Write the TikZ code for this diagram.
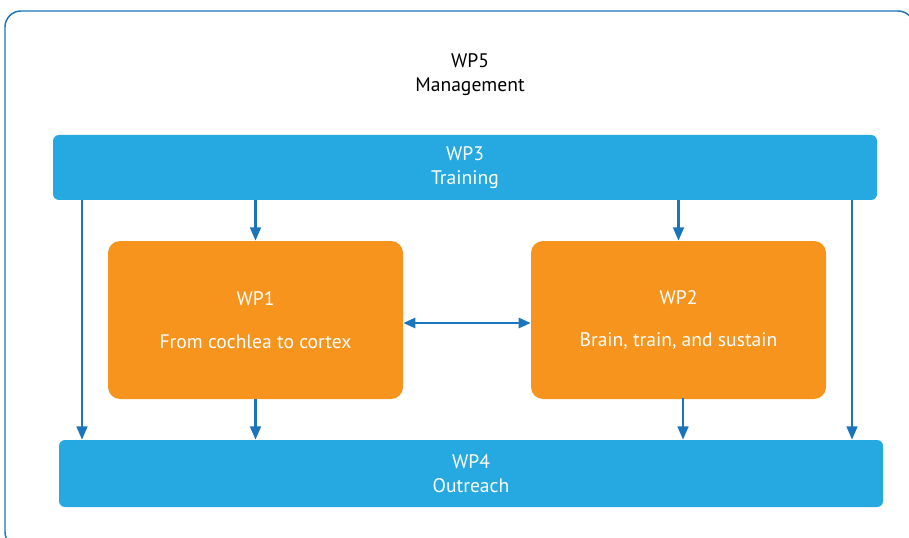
\documentclass[tikz,border=0pt]{standalone}
\usepackage{fontspec}
\setmainfont{PT Sans}
\usepackage{tikz}
\usetikzlibrary{arrows.meta}
\usepackage{xcolor}

\definecolor{wpblue}{RGB}{37,169,224}
\definecolor{wporange}{RGB}{247,148,29}
\definecolor{linkblue}{RGB}{27,117,188}

\tikzset{
  wpbar/.style={rectangle, rounded corners=4.5pt, fill=wpblue, text=white, align=center, inner sep=0pt, font=\fontsize{14.7}{18.5}\selectfont},
  wpcore/.style={rectangle, rounded corners=9pt, fill=wporange, text=white, align=center, inner sep=0pt, font=\fontsize{14.7}{18.5}\selectfont},
  link/.style={draw=linkblue, line width=1.9pt, -{Triangle[length=10pt,width=8pt]}},
  twolink/.style={draw=linkblue, line width=1.9pt, {Triangle[length=9pt,width=7.5pt]}-{Triangle[length=9pt,width=7.5pt]}}
}

\begin{document}
\begin{tikzpicture}[x=0.75pt,y=0.75pt,yscale=-1,xscale=1]
\clip (0,0) rectangle (909,538);

%Rounded frame (WP5)
\draw [color=linkblue, line width=1.1pt, rounded corners=12pt] (5,11) rectangle (914,548);
\node (wp5) at (470,75) [align=center, font=\fontsize{14.7}{18}\selectfont] {WP5\\Management};

%Bars
\node (wp3) at (465,167.5) [wpbar, minimum width=618pt, minimum height=48.75pt] {WP3\\Training};
\node (wp4) at (471,473.5) [wpbar, minimum width=618pt, minimum height=50.25pt] {WP4\\Outreach};

%Work packages
\node (wp1) at (255.5,320) [wpcore, minimum width=221.25pt, minimum height=118.5pt] {WP1\\[13.5pt]From cochlea to cortex};
\node (wp2) at (678.5,320) [wpcore, minimum width=221.25pt, minimum height=118.5pt] {WP2\\[12.5pt]Brain, train, and sustain};

%Free ends of side arrows
\coordinate (lefttop) at (82,200);
\coordinate (righttop) at (852,200);
\coordinate (wp2out) at (683,398);

%Arrows
\draw [link] (wp1.north |- wp3.south) -- (wp1.north);
\draw [link] (wp2.north |- wp3.south) -- (wp2.north);
\draw [link] (lefttop) -- (lefttop |- wp4.north);
\draw [link] (righttop) -- (righttop |- wp4.north);
\draw [link] (wp1.south) -- (wp1.south |- wp4.north);
\draw [link] (wp2out) -- (wp2out |- wp4.north);
\draw [twolink] ([yshift=2.25pt]wp1.east) -- ([yshift=2.25pt]wp2.west);

\end{tikzpicture}
\end{document}
